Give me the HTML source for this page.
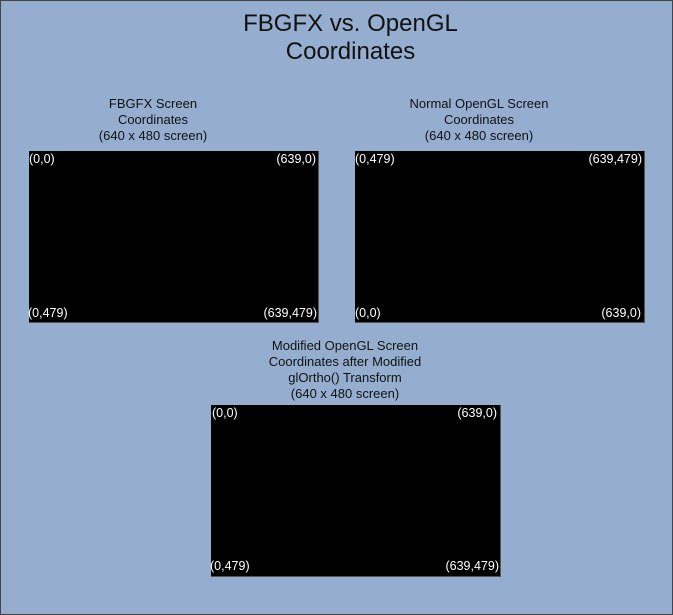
<!DOCTYPE html>
<html><head><style>
body{margin:0;width:673px;height:615px;overflow:hidden;font-family:"Liberation Sans",sans-serif}
#bg{position:absolute;left:0;top:0;width:671px;height:613px;background:#95aecf;border:1px solid #444}
.t{position:absolute;text-align:center;color:#111;font-size:13px;line-height:16px}
.b{position:absolute;background:#000;width:289px;height:171px;border-right:1px solid #555;border-bottom:1px solid #555}
.l{position:absolute;color:#fff;font-size:12.5px;line-height:14px}
</style></head><body>
<div id="bg"></div>
<div class="t" style="left:14px;width:673px;top:10px;font-size:24px;line-height:28px">FBGFX vs. OpenGL<br>Coordinates</div>
<div class="t" style="left:8px;width:290px;top:96px">FBGFX Screen<br>Coordinates<br>(640 x 480 screen)</div>
<div class="t" style="left:334px;width:290px;top:96px">Normal OpenGL Screen<br>Coordinates<br>(640 x 480 screen)</div>
<div class="t" style="left:200px;width:290px;top:338px">Modified OpenGL Screen<br>Coordinates after Modified<br>glOrtho() Transform<br>(640 x 480 screen)</div>

<div class="b" style="left:29px;top:151px">
<span class="l" style="left:0;top:1px">(0,0)</span><span class="l" style="right:2px;top:1px">(639,0)</span>
<span class="l" style="left:-1px;bottom:2px">(0,479)</span><span class="l" style="right:1px;bottom:2px">(639,479)</span></div>
<div class="b" style="left:355px;top:151px">
<span class="l" style="left:0;top:1px">(0,479)</span><span class="l" style="right:2px;top:1px">(639,479)</span>
<span class="l" style="left:0;bottom:2px">(0,0)</span><span class="l" style="right:3px;bottom:2px">(639,0)</span></div>
<div class="b" style="left:211px;top:405px">
<span class="l" style="left:1px;top:1px">(0,0)</span><span class="l" style="right:3px;top:1px">(639,0)</span>
<span class="l" style="left:-1px;bottom:3px">(0,479)</span><span class="l" style="right:1px;bottom:3px">(639,479)</span></div>
</body></html>
